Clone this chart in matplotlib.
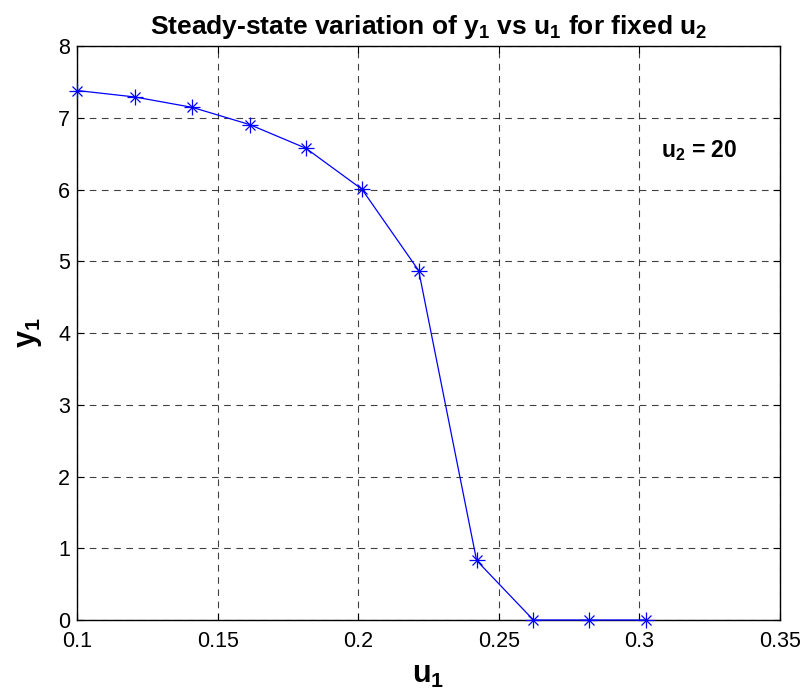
import numpy as np
import matplotlib
matplotlib.use("Agg")
import matplotlib.pyplot as plt

# Steady-state data
u1 = [0.1000, 0.1205, 0.1410, 0.1614, 0.1814, 0.2013, 0.2215, 0.2421, 0.2623, 0.2822, 0.3023]
y1 = [7.38, 7.29, 7.145, 6.905, 6.575, 6.005, 4.87, 0.83, 0.0, 0.0, 0.0]

plt.rcParams['font.family'] = ['Liberation Sans', 'DejaVu Sans']
plt.rcParams['mathtext.fontset'] = 'custom'
plt.rcParams['mathtext.rm'] = 'Liberation Sans'
plt.rcParams['mathtext.it'] = 'Liberation Sans'
plt.rcParams['mathtext.bf'] = 'Liberation Sans:bold'

fig = plt.figure(figsize=(8.04, 6.91), dpi=100)
ax = fig.add_axes([0.0958, 0.1027, 0.8744, 0.8307])

# line, then MATLAB-like asterisk markers (plus + cross)
ax.plot(u1, y1, color='blue', linewidth=0.9, clip_on=False, zorder=3)
ax.plot(u1, y1, color='blue', linestyle='none', marker='+', markersize=11,
        markeredgewidth=0.9, clip_on=False, zorder=4)
ax.plot(u1, y1, color='blue', linestyle='none', marker='x', markersize=7.5,
        markeredgewidth=0.9, clip_on=False, zorder=4)

ax.set_xlim(0.1, 0.35)
ax.set_ylim(0, 8)
ax.set_xticks([0.1, 0.15, 0.2, 0.25, 0.3, 0.35])
ax.set_xticklabels(['0.1', '0.15', '0.2', '0.25', '0.3', '0.35'])
ax.set_yticks(range(0, 9))

ax.grid(True, color='black', linestyle=(0, (6, 5)), linewidth=0.8, alpha=0.75)
ax.tick_params(direction='in', top=True, right=True, length=5, labelsize=15.5)
ax.tick_params(axis='x', pad=8)
ax.tick_params(axis='y', pad=5)
for s in ax.spines.values():
    s.set_linewidth(1.0)

ax.set_title(r'Steady-state variation of $\mathbf{y_1}$ vs $\mathbf{u_1}$ for fixed $\mathbf{u_2}$',
             fontsize=19, fontweight='bold', pad=9)
ax.set_xlabel(r'$\mathbf{u_1}$', fontsize=22, labelpad=6)
ax.set_ylabel(r'$\mathbf{y_1}$', fontsize=22, labelpad=10)

ax.text(0.3075, 6.55, r'$\mathbf{u_2}$ = 20', fontsize=16.5, fontweight='bold', va='center')

fig.savefig('out.png', dpi=100)
